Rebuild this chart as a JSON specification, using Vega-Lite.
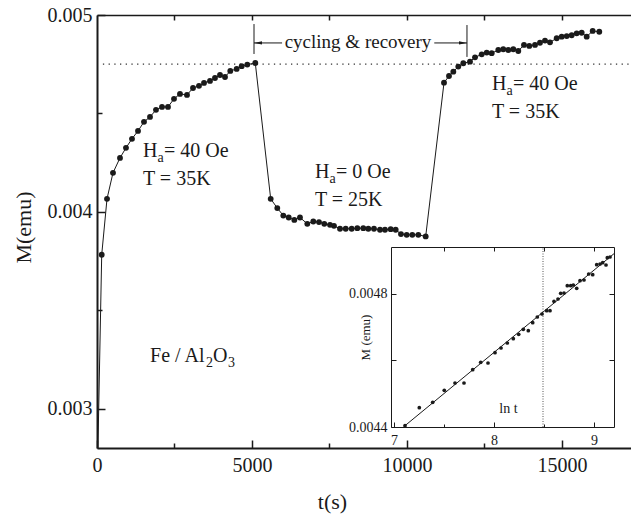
{
  "$schema": "https://vega.github.io/schema/vega-lite/v6.json",
  "width": 534,
  "height": 433,
  "autosize": {"type": "none"},
  "padding": {"left": 97, "top": 15, "right": 0, "bottom": 70},
  "background": "white",
  "config": {
    "view": {"stroke": null},
    "font": "Liberation Serif",
    "axis": {"grid": false, "labelFont": "Liberation Serif", "titleFont": "Liberation Serif", "labelColor": "#1a1a1a", "titleColor": "#1a1a1a", "tickColor": "#1a1a1a", "domainColor": "#1a1a1a", "titleFontWeight": "normal", "labelFlush": false, "labelOverlap": false},
    "text": {"font": "Liberation Serif", "color": "#1a1a1a"}
  },
  "datasets": {
    "main": [
      {"t": 30, "M": 0.0028, "dot": 0},
      {"t": 152, "M": 0.003782, "dot": 1},
      {"t": 323, "M": 0.004066, "dot": 1},
      {"t": 516, "M": 0.004198, "dot": 1},
      {"t": 742, "M": 0.004274, "dot": 1},
      {"t": 935, "M": 0.004325, "dot": 1},
      {"t": 1129, "M": 0.004371, "dot": 1},
      {"t": 1323, "M": 0.004411, "dot": 1},
      {"t": 1516, "M": 0.004457, "dot": 1},
      {"t": 1710, "M": 0.004482, "dot": 1},
      {"t": 1903, "M": 0.004518, "dot": 1},
      {"t": 2097, "M": 0.004533, "dot": 1},
      {"t": 2290, "M": 0.004533, "dot": 1},
      {"t": 2484, "M": 0.004574, "dot": 1},
      {"t": 2677, "M": 0.004599, "dot": 1},
      {"t": 2903, "M": 0.004594, "dot": 1},
      {"t": 3097, "M": 0.004629, "dot": 1},
      {"t": 3290, "M": 0.004640, "dot": 1},
      {"t": 3452, "M": 0.004655, "dot": 1},
      {"t": 3645, "M": 0.004665, "dot": 1},
      {"t": 3806, "M": 0.004680, "dot": 1},
      {"t": 3968, "M": 0.004695, "dot": 1},
      {"t": 4129, "M": 0.004685, "dot": 1},
      {"t": 4300, "M": 0.004716, "dot": 1},
      {"t": 4505, "M": 0.004726, "dot": 1},
      {"t": 4667, "M": 0.004740, "dot": 1},
      {"t": 4848, "M": 0.004748, "dot": 1},
      {"t": 5106, "M": 0.004756, "dot": 1},
      {"t": 5603, "M": 0.004066, "dot": 1},
      {"t": 5816, "M": 0.004019, "dot": 1},
      {"t": 6010, "M": 0.003981, "dot": 1},
      {"t": 6184, "M": 0.003971, "dot": 1},
      {"t": 6365, "M": 0.003959, "dot": 1},
      {"t": 6548, "M": 0.003971, "dot": 1},
      {"t": 6784, "M": 0.003939, "dot": 1},
      {"t": 6977, "M": 0.003951, "dot": 1},
      {"t": 7161, "M": 0.003948, "dot": 1},
      {"t": 7332, "M": 0.003939, "dot": 1},
      {"t": 7516, "M": 0.003934, "dot": 1},
      {"t": 7645, "M": 0.003929, "dot": 1},
      {"t": 7839, "M": 0.003914, "dot": 1},
      {"t": 8023, "M": 0.003914, "dot": 1},
      {"t": 8216, "M": 0.003914, "dot": 1},
      {"t": 8397, "M": 0.003917, "dot": 1},
      {"t": 8590, "M": 0.003917, "dot": 1},
      {"t": 8752, "M": 0.003914, "dot": 1},
      {"t": 8935, "M": 0.003914, "dot": 1},
      {"t": 9129, "M": 0.003909, "dot": 1},
      {"t": 9290, "M": 0.003909, "dot": 1},
      {"t": 9474, "M": 0.003912, "dot": 1},
      {"t": 9635, "M": 0.003909, "dot": 1},
      {"t": 9806, "M": 0.003887, "dot": 1},
      {"t": 9990, "M": 0.003883, "dot": 1},
      {"t": 10171, "M": 0.003883, "dot": 1},
      {"t": 10365, "M": 0.003883, "dot": 1},
      {"t": 10603, "M": 0.003875, "dot": 1},
      {"t": 11194, "M": 0.004656, "dot": 1},
      {"t": 11355, "M": 0.004690, "dot": 1},
      {"t": 11494, "M": 0.004712, "dot": 1},
      {"t": 11655, "M": 0.004738, "dot": 1},
      {"t": 11816, "M": 0.004755, "dot": 1},
      {"t": 12032, "M": 0.004763, "dot": 1},
      {"t": 12194, "M": 0.004785, "dot": 1},
      {"t": 12410, "M": 0.004800, "dot": 1},
      {"t": 12571, "M": 0.004809, "dot": 1},
      {"t": 12732, "M": 0.004806, "dot": 1},
      {"t": 12945, "M": 0.004822, "dot": 1},
      {"t": 13106, "M": 0.004826, "dot": 1},
      {"t": 13268, "M": 0.004822, "dot": 1},
      {"t": 13429, "M": 0.004826, "dot": 1},
      {"t": 13590, "M": 0.004817, "dot": 1},
      {"t": 13774, "M": 0.004848, "dot": 1},
      {"t": 13945, "M": 0.004843, "dot": 1},
      {"t": 14129, "M": 0.004848, "dot": 1},
      {"t": 14290, "M": 0.004859, "dot": 1},
      {"t": 14452, "M": 0.004870, "dot": 1},
      {"t": 14613, "M": 0.004861, "dot": 1},
      {"t": 14829, "M": 0.004882, "dot": 1},
      {"t": 14990, "M": 0.004890, "dot": 1},
      {"t": 15152, "M": 0.004893, "dot": 1},
      {"t": 15313, "M": 0.004897, "dot": 1},
      {"t": 15474, "M": 0.004907, "dot": 1},
      {"t": 15635, "M": 0.004910, "dot": 1},
      {"t": 15797, "M": 0.004890, "dot": 1},
      {"t": 15990, "M": 0.004919, "dot": 1},
      {"t": 16203, "M": 0.004915, "dot": 1}
    ],
    "inset": [
      {"lnt": 7.11, "M": 0.004404},
      {"lnt": 7.253, "M": 0.004458},
      {"lnt": 7.387, "M": 0.004474},
      {"lnt": 7.503, "M": 0.004510},
      {"lnt": 7.61, "M": 0.004532},
      {"lnt": 7.70, "M": 0.004532},
      {"lnt": 7.787, "M": 0.004572},
      {"lnt": 7.867, "M": 0.004594},
      {"lnt": 7.94, "M": 0.004592},
      {"lnt": 8.01, "M": 0.004623},
      {"lnt": 8.07, "M": 0.004637},
      {"lnt": 8.133, "M": 0.004652},
      {"lnt": 8.193, "M": 0.004665},
      {"lnt": 8.247, "M": 0.004678},
      {"lnt": 8.293, "M": 0.004693},
      {"lnt": 8.343, "M": 0.004689},
      {"lnt": 8.387, "M": 0.004713},
      {"lnt": 8.433, "M": 0.004730},
      {"lnt": 8.48, "M": 0.004739},
      {"lnt": 8.527, "M": 0.004749},
      {"lnt": 8.56, "M": 0.004749},
      {"lnt": 8.60, "M": 0.004777},
      {"lnt": 8.64, "M": 0.004784},
      {"lnt": 8.667, "M": 0.004801},
      {"lnt": 8.70, "M": 0.004802},
      {"lnt": 8.733, "M": 0.004824},
      {"lnt": 8.767, "M": 0.004824},
      {"lnt": 8.793, "M": 0.004826},
      {"lnt": 8.827, "M": 0.004816},
      {"lnt": 8.86, "M": 0.004839},
      {"lnt": 8.90, "M": 0.004841},
      {"lnt": 8.947, "M": 0.004859},
      {"lnt": 8.987, "M": 0.004857},
      {"lnt": 9.027, "M": 0.004887},
      {"lnt": 9.06, "M": 0.004889},
      {"lnt": 9.087, "M": 0.004893},
      {"lnt": 9.12, "M": 0.004886},
      {"lnt": 9.133, "M": 0.004908},
      {"lnt": 9.16, "M": 0.004910}
    ],
    "fit": [
      {"lnt": 7.11, "M": 0.004404},
      {"lnt": 9.2, "M": 0.00492}
    ],
    "hlab": [
      {"t": 1484, "M": 0.004279, "rest": "= 40 Oe", "l2": "T = 35K"},
      {"t": 7032, "M": 0.004173, "rest": "= 0 Oe", "l2": "T = 25K"},
      {"t": 12742, "M": 0.004619, "rest": "= 40 Oe", "l2": "T = 35K"}
    ],
    "brackets": [
      {"x1": 5065, "x2": 5065, "y1": 0.004954, "y2": 0.004802},
      {"x1": 11935, "x2": 11935, "y1": 0.004949, "y2": 0.004787},
      {"x1": 5065, "x2": 5970, "y1": 0.004858, "y2": 0.004858},
      {"x1": 10880, "x2": 11935, "y1": 0.004858, "y2": 0.004858}
    ]
  },
  "layer": [
    {
      "layer": [
        {
          "data": {"values": [{"t0": 190, "t1": 17226, "M": 0.00475}]},
          "mark": {"type": "rule", "strokeDash": [1.3, 4.4], "strokeWidth": 1.2, "color": "#333"},
          "encoding": {
            "x": {"field": "t0", "type": "quantitative", "scale": {"domain": [0, 17226], "nice": false, "zero": false}, "axis": null},
            "x2": {"field": "t1"},
            "y": {"field": "M", "type": "quantitative", "scale": {"domain": [0.0028, 0.005], "nice": false, "zero": false}, "axis": null}
          }
        },
        {
          "data": {"name": "main"},
          "mark": {"type": "line", "color": "#1a1a1a", "strokeWidth": 1},
          "encoding": {
            "x": {"field": "t", "type": "quantitative", "scale": {"domain": [0, 17226], "nice": false, "zero": false},
              "axis": {"orient": "bottom", "values": [0, 2500, 5000, 7500, 10000, 12500, 15000], "format": "d",
                "labelExpr": "datum.value % 5000 == 0 ? datum.label : ''",
                "tickSize": {"condition": {"test": "datum.value % 5000 == 0", "value": -8}, "value": -5},
                "tickWidth": 1.5, "domainWidth": 2, "labelPadding": 15, "labelFontSize": 20,
                "title": "t(s)", "titleFontSize": 22, "titleX": 235, "titleY": 60, "titleBaseline": "alphabetic", "titleAnchor": null}},
            "y": {"field": "M", "type": "quantitative", "scale": {"domain": [0.0028, 0.005], "nice": false, "zero": false},
              "axis": {"orient": "left", "values": [0.003, 0.0035, 0.004, 0.0045, 0.005], "format": ".3f",
                "labelExpr": "round(datum.value * 10000) % 10 == 0 ? datum.label : ''",
                "tickSize": {"condition": {"test": "round(datum.value * 10000) % 10 == 0", "value": -8}, "value": -5},
                "tickWidth": 1.5, "domainWidth": 2, "labelPadding": 13, "labelFontSize": 20,
                "title": "M(emu)", "titleFontSize": 22, "titleX": -74, "titleY": 212, "titleBaseline": "middle", "titleAngle": 270}}
          }
        },
        {
          "data": {"name": "main"},
          "transform": [{"filter": "datum.dot == 1"}],
          "mark": {"type": "point", "filled": true, "size": 34, "color": "#1a1a1a", "opacity": 1},
          "encoding": {
            "x": {"field": "t", "type": "quantitative", "scale": {"domain": [0, 17226], "nice": false, "zero": false},
              "axis": {"orient": "top", "values": [2500, 5000, 7500, 10000, 12500, 15000], "labels": false, "tickSize": -5, "tickWidth": 1.5, "domainWidth": 1.5, "title": null}},
            "y": {"field": "M", "type": "quantitative", "scale": {"domain": [0.0028, 0.005], "nice": false, "zero": false}, "axis": null}
          }
        },
        {
          "data": {"name": "brackets"},
          "mark": {"type": "rule", "color": "#1a1a1a", "strokeWidth": 1},
          "encoding": {
            "x": {"field": "x1", "type": "quantitative", "scale": {"domain": [0, 17226], "nice": false, "zero": false}, "axis": null},
            "x2": {"field": "x2"},
            "y": {"field": "y1", "type": "quantitative", "scale": {"domain": [0.0028, 0.005], "nice": false, "zero": false}, "axis": null},
            "y2": {"field": "y2"}
          }
        },
        {
          "data": {"values": [{"t": 5194, "M": 0.004858}]},
          "mark": {"type": "point", "shape": "M -1 0 L 1 -0.4 L 1 0.4 Z", "filled": true, "size": 64, "color": "#1a1a1a", "opacity": 1},
          "encoding": {
            "x": {"field": "t", "type": "quantitative", "axis": null},
            "y": {"field": "M", "type": "quantitative", "axis": null}
          }
        },
        {
          "data": {"values": [{"t": 11806, "M": 0.004858}]},
          "mark": {"type": "point", "shape": "M 1 0 L -1 -0.4 L -1 0.4 Z", "filled": true, "size": 64, "color": "#1a1a1a", "opacity": 1},
          "encoding": {
            "x": {"field": "t", "type": "quantitative", "axis": null},
            "y": {"field": "M", "type": "quantitative", "axis": null}
          }
        },
        {
          "data": {"values": [{"t": 8420, "M": 0.004832, "label": "cycling & recovery"}]},
          "mark": {"type": "text", "align": "center", "baseline": "alphabetic", "fontSize": 19},
          "encoding": {
            "x": {"field": "t", "type": "quantitative", "axis": null},
            "y": {"field": "M", "type": "quantitative", "axis": null},
            "text": {"field": "label"}
          }
        },
        {
          "data": {"name": "hlab"},
          "mark": {"type": "text", "text": "H", "align": "left", "baseline": "alphabetic", "fontSize": 20},
          "encoding": {
            "x": {"field": "t", "type": "quantitative", "axis": null},
            "y": {"field": "M", "type": "quantitative", "axis": null}
          }
        },
        {
          "data": {"name": "hlab"},
          "mark": {"type": "text", "text": "a", "align": "left", "baseline": "alphabetic", "fontSize": 14, "dx": 14.5, "dy": 5},
          "encoding": {
            "x": {"field": "t", "type": "quantitative", "axis": null},
            "y": {"field": "M", "type": "quantitative", "axis": null}
          }
        },
        {
          "data": {"name": "hlab"},
          "mark": {"type": "text", "align": "left", "baseline": "alphabetic", "fontSize": 20, "dx": 21},
          "encoding": {
            "x": {"field": "t", "type": "quantitative", "axis": null},
            "y": {"field": "M", "type": "quantitative", "axis": null},
            "text": {"field": "rest"}
          }
        },
        {
          "data": {"name": "hlab"},
          "mark": {"type": "text", "align": "left", "baseline": "alphabetic", "fontSize": 20, "dy": 28},
          "encoding": {
            "x": {"field": "t", "type": "quantitative", "axis": null},
            "y": {"field": "M", "type": "quantitative", "axis": null},
            "text": {"field": "l2"}
          }
        },
        {
          "data": {"values": [{"t": 1710, "M": 0.003239}]},
          "layer": [
            {"mark": {"type": "text", "text": "Fe / Al", "align": "left", "baseline": "alphabetic", "fontSize": 20}},
            {"mark": {"type": "text", "text": "2", "align": "left", "baseline": "alphabetic", "fontSize": 14, "dx": 56, "dy": 5}},
            {"mark": {"type": "text", "text": "O", "align": "left", "baseline": "alphabetic", "fontSize": 20, "dx": 63}},
            {"mark": {"type": "text", "text": "3", "align": "left", "baseline": "alphabetic", "fontSize": 14, "dx": 78, "dy": 5}}
          ],
          "encoding": {
            "x": {"field": "t", "type": "quantitative", "axis": null},
            "y": {"field": "M", "type": "quantitative", "axis": null}
          }
        }
      ],
      "resolve": {"axis": {"x": "independent", "y": "independent"}}
    },
    {
      "layer": [
        {
          "data": {"values": [{"lnt": 8.49, "M1": 0.0044, "M2": 0.00494}]},
          "mark": {"type": "rule", "strokeDash": [1, 1.5], "strokeWidth": 1, "color": "#555"},
          "encoding": {
            "x": {"field": "lnt", "type": "quantitative", "scale": {"domain": [6.97, 9.2], "range": [294, 517], "nice": false, "zero": false}, "axis": null},
            "y": {"field": "M1", "type": "quantitative", "scale": {"domain": [0.0044, 0.00494], "range": [412, 232], "nice": false, "zero": false}, "axis": null},
            "y2": {"field": "M2"}
          }
        },
        {
          "data": {"name": "fit"},
          "mark": {"type": "line", "color": "#1a1a1a", "strokeWidth": 1},
          "encoding": {
            "x": {"field": "lnt", "type": "quantitative", "scale": {"domain": [6.97, 9.2], "range": [294, 517], "nice": false, "zero": false},
              "axis": {"orient": "bottom", "offset": -21, "values": [7, 7.5, 8, 8.5, 9], "format": ".1f",
                "labelExpr": "datum.value % 1 == 0 ? format(datum.value, 'd') : ''",
                "tickSize": {"condition": {"test": "datum.value % 1 == 0", "value": -5}, "value": -3},
                "tickWidth": 1, "domainWidth": 1, "labelPadding": 11, "labelFontSize": 14,
                "title": "ln t", "titleFontSize": 14, "titleX": 411, "titleY": -19, "titleBaseline": "middle"}},
            "y": {"field": "M", "type": "quantitative", "scale": {"domain": [0.0044, 0.00494], "range": [412, 232], "nice": false, "zero": false},
              "axis": {"orient": "left", "offset": -294, "values": [0.0044, 0.0046, 0.0048], "format": ".4f",
                "labelExpr": "(datum.value < 0.0045 || datum.value > 0.0047) ? datum.label : ''",
                "tickSize": -5, "tickWidth": 1, "domainWidth": 1, "labelPadding": 9, "labelFontSize": 14,
                "title": "M (emu)", "titleFontSize": 13, "titleX": -26, "titleY": 322, "titleBaseline": "middle", "titleAngle": 270}}
          }
        },
        {
          "data": {"name": "inset"},
          "mark": {"type": "point", "filled": true, "size": 14, "color": "#1a1a1a", "opacity": 1},
          "encoding": {
            "x": {"field": "lnt", "type": "quantitative", "scale": {"domain": [6.97, 9.2], "range": [294, 517], "nice": false, "zero": false},
              "axis": {"orient": "top", "offset": -232, "values": [7.5, 8, 8.5, 9], "labels": false, "tickSize": -4, "tickWidth": 1, "domainWidth": 1, "title": null}},
            "y": {"field": "M", "type": "quantitative", "scale": {"domain": [0.0044, 0.00494], "range": [412, 232], "nice": false, "zero": false},
              "axis": {"orient": "right", "offset": -17, "values": [0.0046, 0.0048], "labels": false, "tickSize": -5, "tickWidth": 1, "domainWidth": 1, "title": null}}
          }
        }
      ],
      "resolve": {"axis": {"x": "independent", "y": "independent"}}
    }
  ],
  "resolve": {"scale": {"x": "independent", "y": "independent"}}
}
